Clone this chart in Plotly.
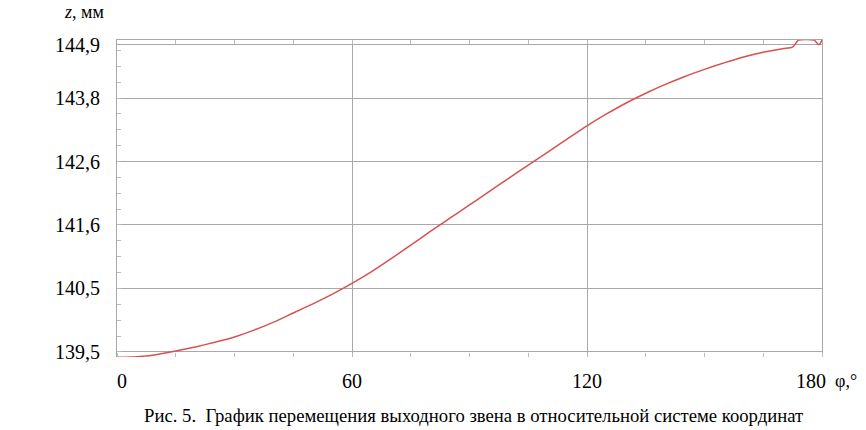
import plotly.graph_objects as go

# угол поворота, град
phi = [0, 5, 10, 15, 20, 25, 30, 35, 40, 45, 50, 55, 60, 65, 70, 75, 80, 85, 90,
       95, 100, 105, 110, 115, 120, 125, 130, 135, 140, 145, 150, 155, 160, 165,
       170, 172.5, 174, 178, 179.2, 180]
# перемещение z, мм
z = [139.41, 139.42, 139.455, 139.515, 139.585, 139.665, 139.755, 139.87, 140.005,
     140.16, 140.315, 140.48, 140.66, 140.86, 141.08, 141.31, 141.54, 141.765,
     141.99, 142.215, 142.44, 142.665, 142.885, 143.11, 143.33, 143.53, 143.715,
     143.88, 144.03, 144.165, 144.285, 144.395, 144.495, 144.575, 144.635, 144.66,
     144.78, 144.78, 144.70, 144.78]

x_ticks = [0, 60, 120, 180]
x_labels = ["0", "60", "120", "180"]
y_ticks = [139.5, 140.575, 141.65, 142.725, 143.8, 144.7]
y_labels = ["139,5", "140,5", "141,6", "142,6", "143,8", "144,9"]

FONT = "Liberation Serif"
GRID = "#a8a8a8"
TICK = "#bbbbbb"
# сдвиг подписей крайних делений внутрь, как в оригинале
label_shift = {"0": 5, "180": -11}

fig = go.Figure()
fig.add_trace(go.Scatter(
    x=phi, y=z, mode="lines",
    line=dict(color="#d95050", width=1.5, shape="spline", smoothing=0.6),
    showlegend=False,
))
# пустой след для верхней оси (рамка и засечки сверху)
fig.add_trace(go.Scatter(x=[0, 180], y=[None, None], xaxis="x2", showlegend=False))

annotations = [
    dict(text=lab, x=v, xref="x", yref="paper", y=-0.076, xshift=label_shift.get(lab, 0),
         xanchor="center", yanchor="middle", showarrow=False,
         font=dict(family=FONT, size=20))
    for v, lab in zip(x_ticks, x_labels)
]
annotations += [
    dict(text="<i>z</i>, мм", xref="paper", yref="paper", x=-0.047, y=1.126,
         xanchor="center", yanchor="top", showarrow=False,
         font=dict(family=FONT, size=18)),
    dict(text="φ,°", xref="paper", yref="paper", x=1.016, y=-0.076,
         xanchor="left", yanchor="middle", showarrow=False,
         font=dict(family=FONT, size=18)),
    dict(text="Рис. 5.  График перемещения выходного звена в относительной системе координат",
         xref="paper", yref="paper", x=0.506, y=-0.183,
         xanchor="center", yanchor="middle", showarrow=False,
         font=dict(family=FONT, size=18.7)),
]

fig.update_layout(
    width=866, height=430,
    margin=dict(l=117, r=44, t=40, b=73),
    plot_bgcolor="white", paper_bgcolor="white",
    font=dict(family=FONT, size=20, color="black"),
    xaxis=dict(
        range=[0, 180], tickvals=x_ticks, showticklabels=False,
        showline=False, zeroline=False,
        showgrid=True, gridcolor=GRID, gridwidth=1, ticks="",
        minor=dict(dtick=15, tick0=0, ticks="inside", ticklen=4, tickcolor=TICK, showgrid=False),
    ),
    xaxis2=dict(
        overlaying="x", side="top", range=[0, 180], tickvals=x_ticks,
        showticklabels=False, showgrid=False, zeroline=False,
        showline=True, linecolor=GRID, linewidth=1,
        ticks="inside", ticklen=4, tickcolor=TICK,
        minor=dict(dtick=15, tick0=0, ticks="inside", ticklen=4, tickcolor=TICK),
    ),
    yaxis=dict(
        range=[139.415, 144.782], tickvals=y_ticks, ticktext=y_labels,
        showline=True, linecolor=GRID, linewidth=1, mirror=True,
        showgrid=True, gridcolor=GRID, gridwidth=1, zeroline=False,
        ticks="", ticklabelstandoff=12, tickfont=dict(family=FONT, size=20),
        minor=dict(dtick=0.26875, tick0=139.5, ticks="inside", ticklen=4,
                   tickcolor=TICK, showgrid=False),
    ),
    annotations=annotations,
)

fig.write_html("out.html", config={"displayModeBar": False},
               post_script="document.body.style.margin='0';")
